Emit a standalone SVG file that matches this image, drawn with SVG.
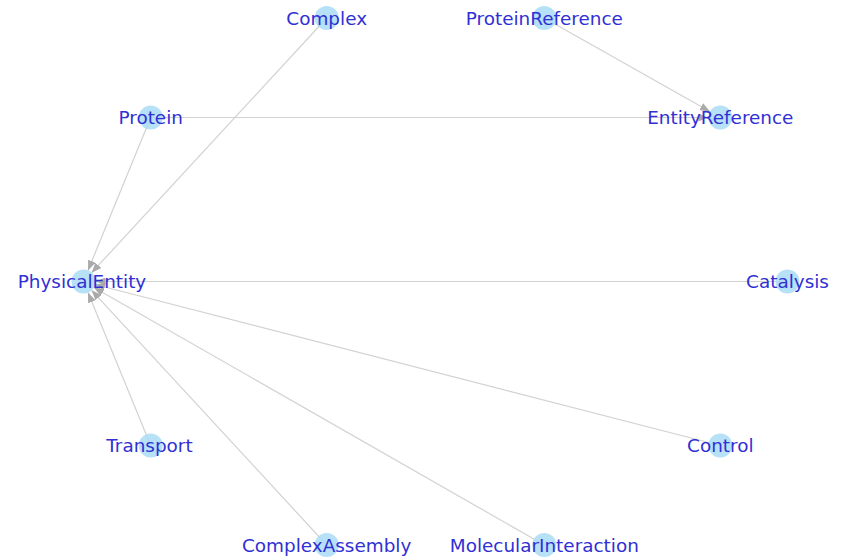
<svg xmlns="http://www.w3.org/2000/svg" width="848" height="557" viewBox="0 0 848 557">
  <style>
    .edge { stroke: #d2d2d2; stroke-width: 1.2; fill: none; marker-end: url(#arrow); }
    .node circle { fill: #a9dcf5; fill-opacity: 0.85; }
    .node text { font-family: "DejaVu Sans", sans-serif; font-size: 18.4px; fill: #3030d4; text-anchor: middle; }
  </style>
  <defs>
    <marker id="arrow" markerUnits="userSpaceOnUse" markerWidth="11" markerHeight="8" refX="10" refY="4" orient="auto">
      <path d="M0,0 L10,4 L0,8 z" fill="#aaaaaa"/>
    </marker>
  </defs>
  <rect width="848" height="557" fill="#ffffff"/>

  <g id="edges">
    <line class="edge" x1="150.7" y1="117.5" x2="88.0" y2="270.4"/>
    <line class="edge" x1="326.7" y1="18" x2="91.6" y2="272.7"/>
    <line class="edge" x1="787.5" y1="281.5" x2="95.5" y2="281.5"/>
    <line class="edge" x1="720.3" y1="445.5" x2="95.1" y2="284.5"/>
    <line class="edge" x1="150.7" y1="445.5" x2="88.0" y2="292.6"/>
    <line class="edge" x1="326.7" y1="545" x2="91.6" y2="290.3"/>
    <line class="edge" x1="544.3" y1="545" x2="93.9" y2="287.5"/>
    <line class="edge" x1="150.7" y1="117.5" x2="708.3" y2="117.5"/>
    <line class="edge" x1="544.3" y1="18" x2="709.9" y2="111.6"/>
  </g>

  <g id="Catalysis" class="node"><circle cx="787.5" cy="281.5" r="12"/><text x="787.5" y="288">Catalysis</text></g>
  <g id="EntityReference" class="node"><circle cx="720.3" cy="117.5" r="12"/><text x="720.3" y="124">EntityReference</text></g>
  <g id="ProteinReference" class="node"><circle cx="544.3" cy="18" r="12"/><text x="544.3" y="24.5">ProteinReference</text></g>
  <g id="Complex" class="node"><circle cx="326.7" cy="18" r="12"/><text x="326.7" y="24.5">Complex</text></g>
  <g id="Protein" class="node"><circle cx="150.7" cy="117.5" r="12"/><text x="150.7" y="124">Protein</text></g>
  <g id="PhysicalEntity" class="node"><circle cx="83.5" cy="281.5" r="12"/><text x="82" y="288">PhysicalEntity</text></g>
  <g id="Transport" class="node"><circle cx="150.7" cy="445.5" r="12"/><text x="149.5" y="452">Transport</text></g>
  <g id="ComplexAssembly" class="node"><circle cx="326.7" cy="545" r="12"/><text x="326.7" y="551.5">ComplexAssembly</text></g>
  <g id="MolecularInteraction" class="node"><circle cx="544.3" cy="545" r="12"/><text x="544.3" y="551.5">MolecularInteraction</text></g>
  <g id="Control" class="node"><circle cx="720.3" cy="445.5" r="12"/><text x="720.3" y="452">Control</text></g>
</svg>
